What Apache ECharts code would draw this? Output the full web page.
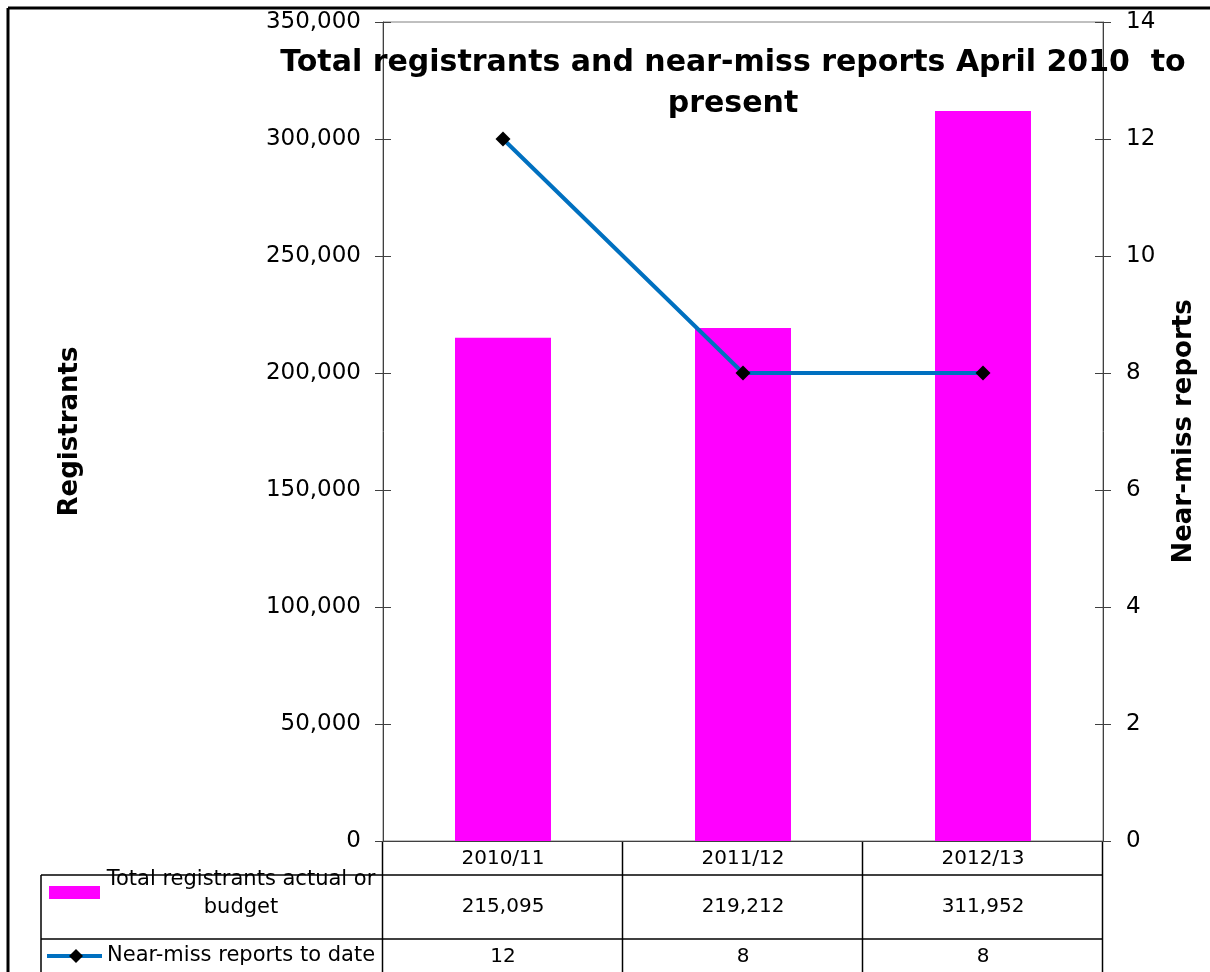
<!DOCTYPE html>
<html>
<head>
<meta charset="utf-8">
<script src="https://cdn.jsdelivr.net/npm/echarts@6/dist/echarts.min.js"></script>
<style>
  html, body { margin: 0; padding: 0; background: #fff; }
  #chart { width: 1210px; height: 972px; }
</style>
</head>
<body>
<div id="chart"></div>
<script>
var categories = ['2010/11', '2011/12', '2012/13'];
var registrants = [215095, 219212, 311952];
var nearMiss = [12, 8, 8];
var seriesNames = ['Total registrants actual or budget', 'Near-miss reports to date'];

var FONT = 'DejaVu Sans, sans-serif';
var axisColor = '#404040';

var chart = echarts.init(document.getElementById('chart'));

function fmt(v) {
    return v.toLocaleString('en-US');
}

var option = {
    backgroundColor: '#fff',
    animation: false,
    title: {
        text: 'Total registrants and near-miss reports April 2010  to\npresent',
        left: 728,
        top: 38,
        textAlign: 'center',
        textStyle: {
            fontFamily: FONT,
            fontSize: 30,
            fontWeight: 'bold',
            color: '#000',
            lineHeight: 41
        }
    },
    grid: {
        left: 383,
        right: 107,
        top: 22,
        bottom: 131,
        show: true,
        borderColor: '#808080',
        borderWidth: 1
    },
    xAxis: {
        type: 'category',
        data: categories,
        axisLine: { lineStyle: { color: axisColor } },
        axisTick: { show: false },
        axisLabel: { fontFamily: FONT, fontSize: 20, color: '#000', margin: 8 }
    },
    yAxis: [
        {
            type: 'value',
            min: 0, max: 350000, interval: 50000,
            position: 'left',
            name: 'Registrants',
            nameLocation: 'middle',
            nameRotate: 90,
            nameGap: 300,
            nameTextStyle: { fontFamily: FONT, fontSize: 26, fontWeight: 'bold', color: '#000' },
            axisLine: { show: true, lineStyle: { color: axisColor } },
            axisTick: { show: true, length: 8, lineStyle: { color: axisColor } },
            axisLabel: { fontFamily: FONT, fontSize: 23, color: '#000', margin: 22, formatter: fmt },
            splitLine: { show: false }
        },
        {
            type: 'value',
            min: 0, max: 14, interval: 2,
            position: 'right',
            name: 'Near-miss reports',
            nameLocation: 'middle',
            nameRotate: 90,
            nameGap: 68,
            nameTextStyle: { fontFamily: FONT, fontSize: 26, fontWeight: 'bold', color: '#000' },
            axisLine: { show: true, lineStyle: { color: axisColor } },
            axisTick: { show: true, length: 8, lineStyle: { color: axisColor } },
            axisLabel: { fontFamily: FONT, fontSize: 23, color: '#000', margin: 23 },
            splitLine: { show: false }
        },
        {
            // inner half of the cross tick marks on the left
            type: 'value',
            min: 0, max: 350000, interval: 50000,
            position: 'left',
            axisLine: { show: false },
            axisTick: { show: true, inside: true, length: 8, lineStyle: { color: axisColor } },
            axisLabel: { show: false },
            splitLine: { show: false }
        },
        {
            type: 'value',
            min: 0, max: 14, interval: 2,
            position: 'right',
            axisLine: { show: false },
            axisTick: { show: true, inside: true, length: 8, lineStyle: { color: axisColor } },
            axisLabel: { show: false },
            splitLine: { show: false }
        }
    ],
    series: [
        {
            name: seriesNames[0],
            type: 'bar',
            data: registrants,
            yAxisIndex: 0,
            barWidth: '40%',
            itemStyle: { color: '#FF00FF' }
        },
        {
            name: seriesNames[1],
            type: 'line',
            data: nearMiss,
            yAxisIndex: 1,
            symbol: 'diamond',
            symbolSize: 15,
            itemStyle: { color: '#000' },
            lineStyle: { color: '#0070C0', width: 4 }
        }
    ]
};
chart.setOption(option);

// data table under the plot, positioned from the category axis
var x0 = 383, x1 = 1103, tableLeft = 41;
var rowTop = 841, rowA = 875, rowB = 939, rowEnd = 972;
var band = (x1 - x0) / categories.length;
var lineStyle = { stroke: '#000', lineWidth: 1.5 };
var g = [];

// outer frame
g.push({ type: 'line', shape: { x1: 8, y1: 8, x2: 1210, y2: 8 }, style: { stroke: '#000', lineWidth: 3 } });
g.push({ type: 'line', shape: { x1: 8, y1: 8, x2: 8, y2: 972 }, style: { stroke: '#000', lineWidth: 3 } });

// horizontal rules
g.push({ type: 'line', shape: { x1: tableLeft, y1: rowA, x2: x1, y2: rowA }, style: lineStyle });
g.push({ type: 'line', shape: { x1: tableLeft, y1: rowB, x2: x1, y2: rowB }, style: lineStyle });
// vertical rules
g.push({ type: 'line', shape: { x1: tableLeft, y1: rowA, x2: tableLeft, y2: rowEnd }, style: lineStyle });
for (var i = 0; i <= categories.length; i++) {
    var cx = Math.round(x0 + band * i) - 0.5;
    g.push({ type: 'line', shape: { x1: cx, y1: rowTop, x2: cx, y2: rowEnd }, style: lineStyle });
}

// values
categories.forEach(function (c, i) {
    var px = chart.convertToPixel({ xAxisIndex: 0 }, c);
    g.push({ type: 'text', x: px, y: (rowA + rowB) / 2, style: {
        text: fmt(registrants[i]), fill: '#000', font: '20px ' + FONT, align: 'center', verticalAlign: 'middle' } });
    g.push({ type: 'text', x: px, y: (rowB + rowEnd) / 2 + 1, style: {
        text: String(nearMiss[i]), fill: '#000', font: '20px ' + FONT, align: 'center', verticalAlign: 'middle' } });
});

// legend keys
g.push({ type: 'rect', shape: { x: 49, y: 886, width: 51, height: 13 }, style: { fill: '#FF00FF' } });
g.push({ type: 'text', x: 241, y: 894, style: {
    text: 'Total registrants actual or\nbudget', fill: '#000', font: '21px ' + FONT,
    align: 'center', verticalAlign: 'middle', lineHeight: 28 } });
g.push({ type: 'line', shape: { x1: 47, y1: 956, x2: 102, y2: 956 }, style: { stroke: '#0070C0', lineWidth: 4 } });
g.push({ type: 'polygon', shape: { points: [[76, 949], [83, 956], [76, 963], [69, 956]] }, style: { fill: '#000' } });
g.push({ type: 'text', x: 107, y: 956, style: {
    text: seriesNames[1], fill: '#000', font: '21px ' + FONT, align: 'left', verticalAlign: 'middle' } });

chart.setOption({ graphic: g });
</script>
</body>
</html>
